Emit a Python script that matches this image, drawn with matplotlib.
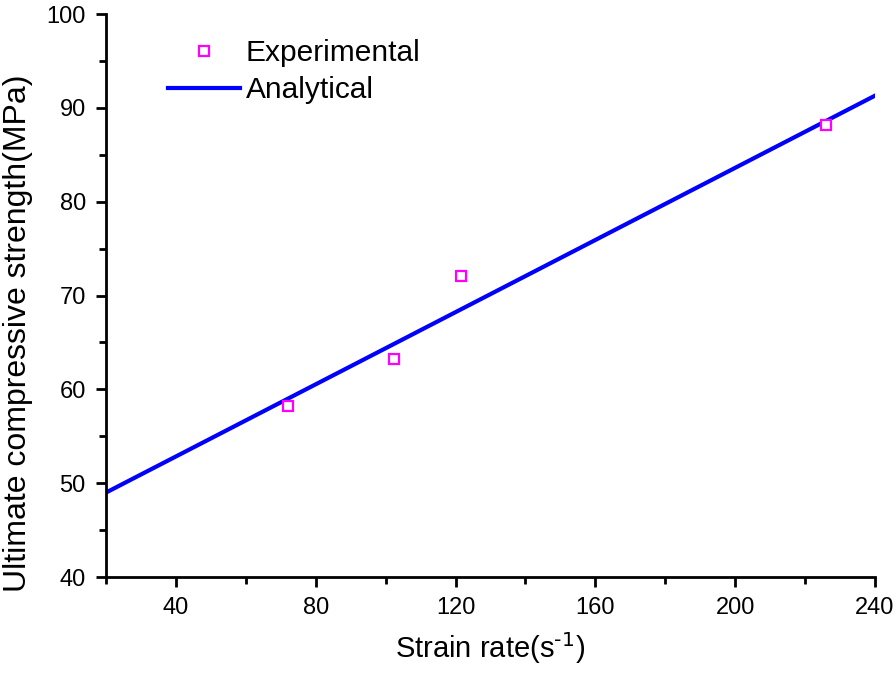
import matplotlib.pyplot as plt
from matplotlib.ticker import MultipleLocator

# values
exp_strain_rate = [72, 102.5, 121.5, 226]
exp_strength = [58.2, 63.2, 72.1, 88.2]
model_strain_rate = [20, 240]
model_strength = [49.0, 91.3]

plt.rcParams["font.family"] = ["Liberation Sans", "DejaVu Sans"]

fig = plt.figure(figsize=(8.96, 6.77), dpi=100)
ax = fig.add_axes([0.1183, 0.1477, 0.8583, 0.8316])

ax.plot(
    model_strain_rate,
    model_strength,
    color="#0000FF",
    linewidth=3,
    label="Analytical",
    zorder=2,
)
ax.plot(
    exp_strain_rate,
    exp_strength,
    linestyle="none",
    marker="s",
    markersize=7,
    markerfacecolor="white",
    markeredgecolor="#FF00FF",
    markeredgewidth=1.6,
    label="Experimental",
    zorder=3,
)

ax.set_xlim(20, 240)
ax.set_ylim(40, 100)
ax.xaxis.set_major_locator(MultipleLocator(40))
ax.xaxis.set_minor_locator(MultipleLocator(20))
ax.yaxis.set_major_locator(MultipleLocator(10))
ax.yaxis.set_minor_locator(MultipleLocator(5))

ax.spines["top"].set_visible(False)
ax.spines["right"].set_visible(False)
for side in ("left", "bottom"):
    ax.spines[side].set_linewidth(2)

ax.tick_params(which="major", direction="out", length=7.5, width=2,
               labelsize=17, pad=7)
ax.tick_params(which="minor", direction="out", length=5, width=2)

ax.set_xlabel(r"Strain rate(s$^{\text{-1}}$)", fontsize=21, labelpad=8)
ax.set_ylabel("Ultimate compressive strength(MPa)", fontsize=23)
ax.yaxis.set_label_coords(-0.095, 0.433)

handles, labels = ax.get_legend_handles_labels()
ax.legend(
    handles[::-1],
    labels[::-1],
    loc="upper left",
    bbox_to_anchor=(0.1875, 1 - 39 / 677),
    bbox_transform=fig.transFigure,
    frameon=False,
    fontsize=21.5,
    handlelength=2.4,
    handletextpad=0.2,
    labelspacing=0.3,
    borderpad=0,
    borderaxespad=0,
)

fig.savefig("out.png", dpi=100)
